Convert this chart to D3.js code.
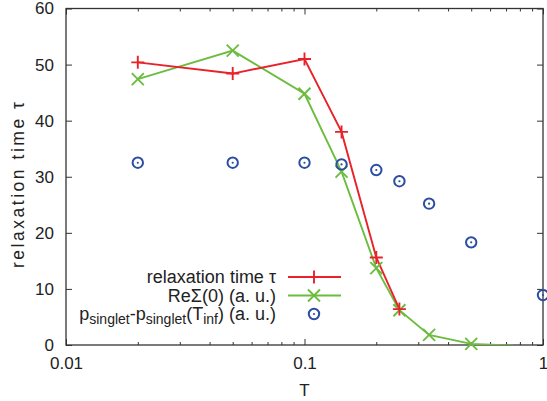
<!DOCTYPE html>
<html>
<head>
<meta charset="utf-8">
<script src="https://cdn.jsdelivr.net/npm/d3@7"></script>
<style>
  body { margin: 0; background: #fff; }
  text { font-family: "Liberation Sans", Arial, Helvetica, sans-serif; fill: #222; }
</style>
</head>
<body>
<svg id="chart" width="547" height="401"></svg>
<script>
// Relaxation time tau vs temperature T
const tauT   = [0.02, 0.05, 0.1, 0.143, 0.2, 0.25];
const tauVal = [50.4, 48.4, 51.0, 38.0, 15.6, 6.4];

// Re Sigma(0), arbitrary units
const sigT   = [0.02, 0.05, 0.1, 0.143, 0.2, 0.25, 0.333, 0.5, 0.75];
const sigVal = [47.4, 52.5, 44.8, 30.9, 13.7, 6.2, 1.8, 0.2, -0.1];

// p_singlet - p_singlet(T_inf), arbitrary units
const pT   = [0.02, 0.05, 0.1, 0.143, 0.2, 0.25, 0.333, 0.5, 1.0];
const pVal = [32.5, 32.5, 32.5, 32.2, 31.2, 29.2, 25.2, 18.3, 8.9];

const xTicks = [0.01, 0.1, 1];
const xTickLabels = ["0.01", "0.1", "1"];
const yTicks = [0, 10, 20, 30, 40, 50, 60];

const red = "#e8222a", green = "#6cbd3f", blue = "#2b4ea2";

const svg = d3.select("#chart");
const m = { left: 66, right: 4, top: 8.5, bottom: 56 };
const W = 547, H = 401;
const x = d3.scaleLog().domain([0.01, 1]).range([m.left, W - m.right]);
const y = d3.scaleLinear().domain([0, 60]).range([H - m.bottom, m.top]);

svg.append("defs").append("clipPath").attr("id", "plotclip")
  .append("rect")
  .attr("x", x(0.01)).attr("y", y(60))
  .attr("width", x(1) - x(0.01)).attr("height", y(0) - y(60));

// Ticks: inward, on all four sides
const minor = [];
for (let d = 0.01; d < 1; d *= 10) for (let k = 2; k <= 9; k++) minor.push(d * k);

const xB = d3.axisBottom(x).tickValues(xTicks).tickFormat((d, i) => xTickLabels[i])
  .tickSizeInner(-6).tickSizeOuter(0).tickPadding(12);
const gxB = svg.append("g").attr("transform", `translate(0,${y(0)})`).call(xB);
gxB.select(".domain").remove();
gxB.selectAll("text").attr("font-size", 17);

const xBm = d3.axisBottom(x).tickValues(minor).tickFormat("").tickSizeInner(-3).tickSizeOuter(0);
svg.append("g").attr("transform", `translate(0,${y(0)})`).call(xBm).select(".domain").remove();
const xT = d3.axisTop(x).tickValues(xTicks).tickFormat("").tickSizeInner(-6).tickSizeOuter(0);
svg.append("g").attr("transform", `translate(0,${y(60)})`).call(xT).select(".domain").remove();
const xTm = d3.axisTop(x).tickValues(minor).tickFormat("").tickSizeInner(-3).tickSizeOuter(0);
svg.append("g").attr("transform", `translate(0,${y(60)})`).call(xTm).select(".domain").remove();

const yL = d3.axisLeft(y).tickValues(yTicks).tickFormat(d3.format("d"))
  .tickSizeInner(-6).tickSizeOuter(0).tickPadding(12);
const gyL = svg.append("g").attr("transform", `translate(${x(0.01)},0)`).call(yL);
gyL.select(".domain").remove();
gyL.selectAll("text").attr("font-size", 17);
const yR = d3.axisRight(y).tickValues(yTicks).tickFormat("").tickSizeInner(-6).tickSizeOuter(0);
svg.append("g").attr("transform", `translate(${x(1)},0)`).call(yR).select(".domain").remove();

svg.selectAll(".tick line").attr("stroke", "#333");

// Frame
svg.append("rect")
  .attr("x", x(0.01)).attr("y", y(60))
  .attr("width", x(1) - x(0.01)).attr("height", y(0) - y(60))
  .attr("fill", "none").attr("stroke", "#333").attr("stroke-width", 1.3);

// Axis titles
svg.append("text").attr("x", x(0.1)).attr("y", 396).attr("text-anchor", "middle")
  .attr("font-size", 17).text("T");
svg.append("text").attr("transform", `translate(24,185) rotate(-90)`)
  .attr("text-anchor", "middle").attr("font-size", 17.5)
  .attr("textLength", 166).attr("lengthAdjust", "spacing")
  .text("relaxation time τ");

// Marker shapes
function plus(g, cx, cy, color) {
  g.append("path").attr("d", `M${cx - 6.5},${cy}H${cx + 6.5}M${cx},${cy - 6.5}V${cy + 6.5}`)
    .attr("stroke", color).attr("stroke-width", 1.9).attr("fill", "none");
}
function cross(g, cx, cy, color) {
  g.append("path").attr("d", `M${cx - 6},${cy - 6}L${cx + 6},${cy + 6}M${cx - 6},${cy + 6}L${cx + 6},${cy - 6}`)
    .attr("stroke", color).attr("stroke-width", 1.9).attr("fill", "none");
}
function ring(g, cx, cy, color) {
  g.append("circle").attr("cx", cx).attr("cy", cy).attr("r", 5.2)
    .attr("fill", "none").attr("stroke", color).attr("stroke-width", 2);
  g.append("circle").attr("cx", cx).attr("cy", cy).attr("r", 1.1).attr("fill", color);
}

const plot = svg.append("g").attr("clip-path", "url(#plotclip)");
const line = d3.line().x(d => x(d[0])).y(d => y(d[1]));

const tauData = tauT.map((t, i) => [t, tauVal[i]]);
const sigData = sigT.map((t, i) => [t, sigVal[i]]);
const pData = pT.map((t, i) => [t, pVal[i]]);

plot.append("path").datum(sigData).attr("d", line)
  .attr("fill", "none").attr("stroke", green).attr("stroke-width", 1.9);
plot.append("path").datum(tauData).attr("d", line)
  .attr("fill", "none").attr("stroke", red).attr("stroke-width", 1.9);

const inRange = d => d[1] >= 0 && d[1] <= 60;
sigData.filter(inRange).forEach(d => cross(svg, x(d[0]), y(d[1]), green));
tauData.filter(inRange).forEach(d => plus(svg, x(d[0]), y(d[1]), red));
pData.filter(inRange).forEach(d => ring(svg, x(d[0]), y(d[1]), blue));

// Legend
const legend = [
  { color: red, draw: plus, line: true },
  { color: green, draw: cross, line: true },
  { color: blue, draw: ring, line: false }
];
const lgX = 276, lgY0 = 277, lgDy = 18.5;
const lg = svg.append("g");
legend.forEach((e, i) => {
  const cy = lgY0 + i * lgDy;
  if (e.line) lg.append("line").attr("x1", 288).attr("x2", 341).attr("y1", cy).attr("y2", cy)
    .attr("stroke", e.color).attr("stroke-width", 1.9);
  e.draw(lg, 314, cy, e.color);
});
const fs = 18, sub = 14;
const t0 = lg.append("text").attr("x", lgX).attr("y", lgY0 + 6).attr("text-anchor", "end").attr("font-size", fs);
t0.text("relaxation time τ");
const t1 = lg.append("text").attr("x", lgX).attr("y", lgY0 + lgDy + 6).attr("text-anchor", "end").attr("font-size", fs);
t1.text("ReΣ(0) (a. u.)");
const t2 = lg.append("text").attr("x", lgX).attr("y", lgY0 + 2 * lgDy + 6).attr("text-anchor", "end").attr("font-size", fs);
t2.append("tspan").text("p");
t2.append("tspan").attr("font-size", sub).attr("dy", 4).text("singlet");
t2.append("tspan").attr("dy", -4).text("-p");
t2.append("tspan").attr("font-size", sub).attr("dy", 4).text("singlet");
t2.append("tspan").attr("dy", -4).text("(T");
t2.append("tspan").attr("font-size", sub).attr("dy", 4).text("inf");
t2.append("tspan").attr("dy", -4).text(") (a. u.)");
</script>
</body>
</html>
